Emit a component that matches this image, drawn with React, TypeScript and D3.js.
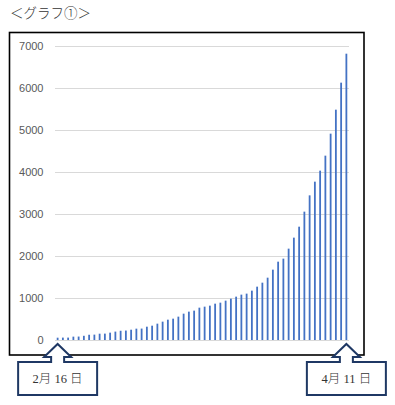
import React from "react";
import * as d3 from "d3";

const startDate = new Date(2020, 1, 16);
const endDate = new Date(2020, 3, 12);
const categories: string[] = d3.timeDay.range(startDate, endDate).map((d) => d3.timeFormat("%-m/%-d")(d));

const values: number[] = [
  55, 57, 57, 80, 82, 100, 125, 128, 150, 152,
  175, 200, 220, 225, 245, 270, 272, 317, 341, 389,
  437, 484, 508, 556, 627, 675, 699, 770, 794, 818,
  865, 889, 937, 984, 1032, 1080, 1104, 1175, 1270, 1365,
  1484, 1675, 1865, 1937, 2175, 2437, 2698, 3056, 3444, 3770,
  4032, 4389, 4913, 5484, 6127, 6817,
];

const yTicks: number[] = [0, 1000, 2000, 3000, 4000, 5000, 6000, 7000];
const title = "＜グラフ①＞";
const startLabel = "2月 16 日";
const endLabel = "4月 11 日";

const W = 395;
const H = 405;
const plotLeft = 55;
const plotRight = 349;
const plotTop = 46;
const plotBottom = 340;

export default function App() {
  const band = d3.scaleBand<string>().domain(categories).range([plotLeft, plotRight]);
  const y = d3.scaleLinear().domain([0, 7000]).range([plotBottom, plotTop]);

  const center = (c: string) => (band(c) as number) + band.bandwidth() / 2;

  const callout = (cx: number, label: string) => {
    const bw = 79;
    const x0 = cx - bw / 2;
    const x1 = cx + bw / 2;
    const top = 362;
    const bottom = 395;
    const neck = 357;
    const apex = 344;
    const p = d3.path();
    p.moveTo(x0, top);
    p.lineTo(cx - 6.5, top);
    p.lineTo(cx - 6.5, neck);
    p.lineTo(cx - 13.5, neck);
    p.lineTo(cx, apex);
    p.lineTo(cx + 13.5, neck);
    p.lineTo(cx + 6.5, neck);
    p.lineTo(cx + 6.5, top);
    p.lineTo(x1, top);
    p.lineTo(x1, bottom);
    p.lineTo(x0, bottom);
    p.closePath();
    return (
      <g key={label}>
        <path d={p.toString()} fill="#ffffff" stroke="#1f3864" strokeWidth={2} strokeLinejoin="miter" />
        <text
          x={cx}
          y={383}
          textAnchor="middle"
          fontFamily="'Liberation Serif', 'Noto Sans CJK JP', serif"
          fontSize={12.5}
          fontWeight={300}
          fill="#333"
        >
          {label}
        </text>
      </g>
    );
  };

  return (
    <svg width={W} height={H} style={{ position: "absolute", left: 0, top: 0 }} xmlns="http://www.w3.org/2000/svg">
      <rect x={0} y={0} width={W} height={H} fill="#ffffff" />
      <text x={10} y={18} fontFamily="'Noto Sans CJK JP', sans-serif" fontSize={13.5} fontWeight={300} fill="#333">
        {title}
      </text>
      <rect x={9.5} y={32.5} width={354.5} height={322.5} fill="#ffffff" stroke="#000" strokeWidth={1.6} />
      {yTicks.map((t) => (
        <g key={t}>
          <line x1={plotLeft} x2={plotRight} y1={Math.round(y(t)) + 0.5} y2={Math.round(y(t)) + 0.5} stroke="#d9d9d9" strokeWidth={1} />
          <text
            x={43.5}
            y={y(t) + 4}
            textAnchor="end"
            fontFamily="'Liberation Sans', Arial, sans-serif"
            fontSize={11}
            fill="#595959"
          >
            {t}
          </text>
        </g>
      ))}
      {categories.map((c, i) => (
        <rect
          key={c}
          x={center(c) - 0.9}
          y={y(values[i])}
          width={1.8}
          height={plotBottom - y(values[i])}
          fill="#4472c4"
        />
      ))}
      {callout(center(categories[0]), startLabel)}
      {callout(center(categories[categories.length - 1]), endLabel)}
    </svg>
  );
}
